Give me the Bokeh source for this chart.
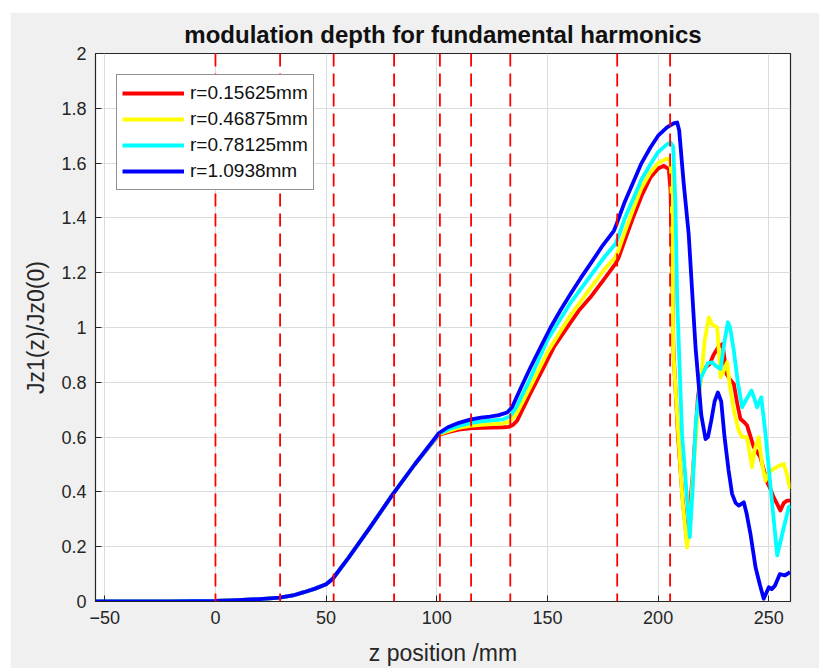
from bokeh.plotting import figure
from bokeh.models import Range1d, Span, Legend, LegendItem, FixedTicker
from bokeh.embed import file_html
from bokeh.resources import INLINE

# ---------------- data ----------------
# shared rising part (all four radii coincide here)
z_rise = [-54.2, -40, -20, 0, 10, 20, 29, 35, 40, 45, 50, 53, 60, 70, 80, 90]
y_rise = [0, 0, 0, 0.002, 0.005, 0.009, 0.014, 0.022, 0.034, 0.047, 0.063, 0.083, 0.158, 0.272, 0.39, 0.5]

z_red = [101, 105, 110, 115, 120, 125, 130, 132.5, 134.5, 136.3, 142, 148.3, 153, 158.9, 164, 169.4, 175,
         180.7, 182.2, 185, 189, 192.5, 196.5, 200, 202.6, 204.8, 205.6, 206.4, 206.9, 209, 211, 213, 215.5,
         218, 219.9, 221.5, 223.3, 225, 227.1, 229.1, 230.9, 232.5, 234.2, 235.8, 237.2, 238.8, 240.2, 241.8,
         243.2, 244.8, 246.2, 247.8, 249.3, 250.8, 252.2, 253.8, 255.2, 256.8, 258.3, 259.6]
y_red = [0.608, 0.618, 0.627, 0.632, 0.634, 0.635, 0.636, 0.637, 0.645, 0.66, 0.755, 0.854, 0.93, 1.0, 1.06,
         1.11, 1.17, 1.232, 1.256, 1.32, 1.408, 1.48, 1.547, 1.58, 1.59, 1.578, 1.5, 1.2, 0.92, 0.6, 0.38, 0.22,
         0.45, 0.75, 0.842, 0.855, 0.867, 0.9, 0.927, 0.94, 0.83, 0.81, 0.794, 0.72, 0.666, 0.655, 0.642, 0.6,
         0.563, 0.545, 0.526, 0.48, 0.435, 0.41, 0.38, 0.355, 0.332, 0.36, 0.368, 0.368]

z_yellow = [101, 105, 110, 115, 120, 125, 130, 133, 136, 142, 150, 160, 170, 176, 180.7, 182, 185, 189, 192.5,
            196.5, 200, 203.5, 205, 205.8, 206.3, 206.8, 209, 211, 213.1, 214.5, 216, 219, 221, 222.9, 224.5,
            226.7, 228.2, 229.5, 231.2, 232.5, 234.2, 236.4, 238, 240.1, 241.2, 242.4, 243.5, 245.4, 247, 248.5,
            250, 252.2, 254.5, 256.8, 258.3, 259.6]
y_yellow = [0.61, 0.622, 0.634, 0.641, 0.645, 0.647, 0.65, 0.657, 0.685, 0.78, 0.91, 1.04, 1.15, 1.215, 1.256,
            1.28, 1.35, 1.438, 1.51, 1.566, 1.6, 1.615, 1.615, 1.58, 1.4, 0.92, 0.62, 0.37, 0.198, 0.3, 0.5, 0.78,
            0.95, 1.037, 1.01, 1.0, 0.818, 0.84, 0.873, 0.78, 0.697, 0.624, 0.6, 0.6, 0.55, 0.49, 0.55, 0.6, 0.5,
            0.441, 0.47, 0.484, 0.495, 0.502, 0.46, 0.411]

z_cyan = [101, 105, 110, 115, 120, 125, 130, 133, 136, 142, 150, 160, 170, 176, 180.7, 182, 185, 189, 192.5,
          196.5, 200, 204.1, 205.6, 206.8, 207.8, 208.6, 210.8, 213.1, 214.3, 215.5, 217, 219.1, 221, 222.5,
          224.4, 226, 228.2, 230, 231.5, 232.5, 234.2, 236, 238, 240, 242.2, 243.5, 244.7, 246.6, 248.5, 251,
          253.8, 256.8, 259, 259.8]
y_cyan = [0.612, 0.628, 0.641, 0.651, 0.657, 0.661, 0.665, 0.675, 0.71, 0.81, 0.955, 1.085, 1.195, 1.26, 1.305,
          1.33, 1.4, 1.474, 1.54, 1.596, 1.64, 1.669, 1.675, 1.66, 1.45, 1.1, 0.61, 0.37, 0.235, 0.4, 0.65,
          0.812, 0.845, 0.87, 0.873, 0.86, 0.849, 0.95, 1.019, 1.0, 0.915, 0.8, 0.709, 0.74, 0.77, 0.74, 0.709,
          0.745, 0.612, 0.4, 0.168, 0.271, 0.344, 0.35]

z_blue = [101, 105, 110, 115, 120, 124, 128, 131.8, 134, 138, 142.3, 147, 151.4, 156, 160.4, 165, 169.4, 175,
          180, 181.2, 185, 189, 192.5, 196.5, 200, 204, 207, 208.6, 209.5, 211.5, 213.8, 216.9, 219.5, 221.4,
          222.5, 224, 225.5, 227, 228.5, 230, 231.8, 233.4, 235, 236.4, 238.7, 240, 241.7, 244, 246, 247.7,
          250, 251.3, 252.8, 255, 257.3, 259.6]
y_blue = [0.615, 0.636, 0.652, 0.664, 0.671, 0.675, 0.68, 0.69, 0.709, 0.78, 0.854, 0.93, 1.0, 1.065, 1.122,
          1.18, 1.232, 1.3, 1.353, 1.377, 1.46, 1.535, 1.6, 1.657, 1.7, 1.73, 1.745, 1.748, 1.72, 1.53, 1.341,
          0.927, 0.68, 0.593, 0.6, 0.66, 0.73, 0.763, 0.73, 0.6, 0.48, 0.393, 0.36, 0.35, 0.362, 0.32, 0.247,
          0.125, 0.06, 0.01, 0.052, 0.045, 0.058, 0.1, 0.095, 0.107]

series_names = ["r=0.15625mm", "r=0.46875mm", "r=0.78125mm", "r=1.0938mm"]
series_colors = ["#ff0000", "#ffff00", "#00ffff", "#0000ff"]

# red dashed markers (z positions)
dash_positions = [0, 29.2, 53.4, 80.7, 101.4, 115.5, 133.2, 181.5, 205.4]

x_ticks = [-50, 0, 50, 100, 150, 200, 250]
y_ticks = [0, 0.2, 0.4, 0.6, 0.8, 1.0, 1.2, 1.4, 1.6, 1.8, 2.0]
y_tick_labels = ["0", "0.2", "0.4", "0.6", "0.8", "1", "1.2", "1.4", "1.6", "1.8", "2"]

title_text = "modulation depth for fundamental harmonics"
x_label = "z position /mm"
y_label = "Jz1(z)/Jz0(0)"

# ---------------- figure ----------------
FONT = "Liberation Sans"
AX = "#262626"

p = figure(width=809, height=656, output_backend="svg", toolbar_location=None,
           x_range=Range1d(-54.2, 259.8), y_range=Range1d(0, 2),
           min_border_left=85, min_border_right=29, min_border_top=41, min_border_bottom=67,
           background_fill_color="white", border_fill_color="#f0f0f0",
           title=title_text)
p.margin = (12, 0, 0, 10)

p.title.text_font = FONT
p.title.text_font_size = "24px"
p.title.text_font_style = "bold"
p.title.text_color = "#111111"
p.title.align = "center"
p.title.standoff = 11

p.outline_line_color = AX
p.outline_line_width = 1.2

for ax in (p.xaxis[0], p.yaxis[0]):
    ax.axis_line_color = AX
    ax.major_tick_line_color = AX
    ax.major_tick_in = 6
    ax.major_tick_out = 0
    ax.minor_tick_line_color = None
    ax.major_label_text_font = FONT
    ax.major_label_text_font_size = "18px"
    ax.major_label_text_color = AX
    ax.axis_label_text_font = FONT
    ax.axis_label_text_font_size = "23px"
    ax.axis_label_text_font_style = "normal"
    ax.axis_label_text_color = AX
    ax.major_label_standoff = 9

p.xaxis.ticker = FixedTicker(ticks=x_ticks)
p.yaxis.ticker = FixedTicker(ticks=y_ticks)
p.yaxis.major_label_overrides = {t: l for t, l in zip(y_ticks, y_tick_labels)}
p.xaxis.axis_label = x_label
p.yaxis.axis_label = y_label
p.xaxis.axis_label_standoff = 13
p.yaxis.axis_label_standoff = 9

p.grid.grid_line_color = "#dcdcdc"
p.grid.grid_line_width = 1

# ---------------- curves ----------------
zs = [z_red, z_yellow, z_cyan, z_blue]
ys = [y_red, y_yellow, y_cyan, y_blue]
renderers = []
for z, y, c in zip(zs, ys, series_colors):
    r = p.line(z_rise + z, y_rise + y, line_color=c, line_width=3.8, line_join="round")
    renderers.append(r)

for d in dash_positions:
    p.add_layout(Span(location=d, dimension="height", line_color="#ff0000",
                      line_width=1.8, line_dash="13 7"))

legend = Legend(items=[LegendItem(label=n, renderers=[r]) for n, r in zip(series_names, renderers)],
                location="top_left", margin=21, padding=5, spacing=0,
                glyph_width=62, glyph_height=26, label_height=26, label_standoff=6,
                label_text_font=FONT, label_text_font_size="19px", label_text_color="#111111",
                border_line_color=AX, border_line_width=1.2, background_fill_color="white",
                background_fill_alpha=1.0)
p.add_layout(legend, "center")

open("out.html", "w").write(file_html(p, INLINE))
